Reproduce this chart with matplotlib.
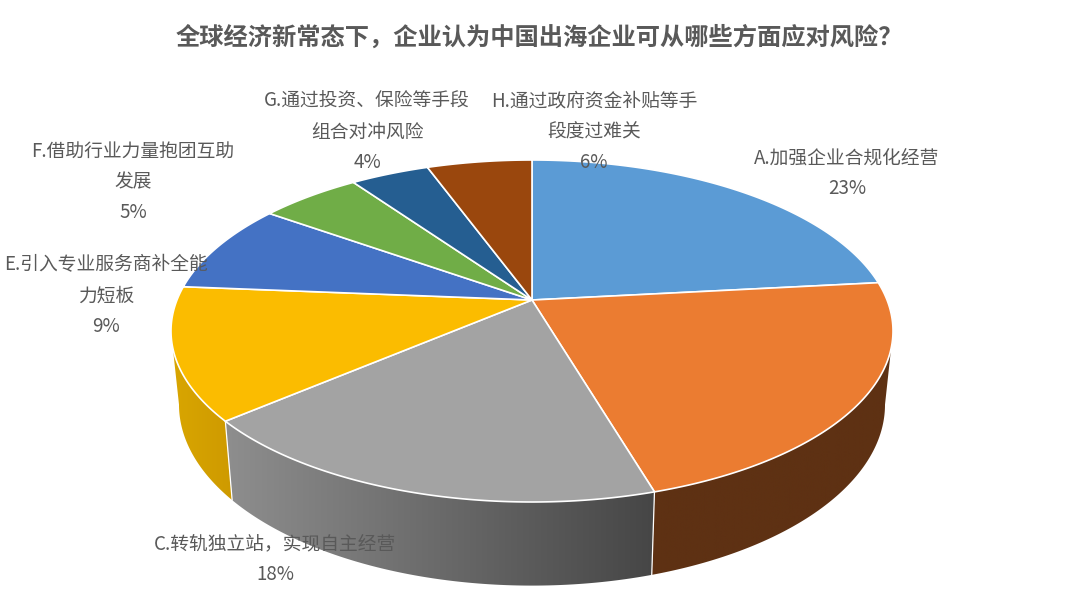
"""
3D pie: how companies think Chinese firms going abroad can handle risk.
Drawn by hand on a pixel-sized axes since matplotlib has no real 3D pie.
"""

import numpy as np
import matplotlib
matplotlib.use('Agg')
import matplotlib.pyplot as plt
from matplotlib.colors import LinearSegmentedColormap
from matplotlib.patches import Polygon

plt.rcParams['font.family'] = ['Noto Sans CJK SC', 'DejaVu Sans']

# ── Data ───────────────────────────────────────────────────────────────────────
TITLE = '全球经济新常态下，企业认为中国出海企业可从哪些方面应对风险？'
LABELS = ['A.加强企业合规化经营', '', 'C.转轨独立站，实现自主经营', '',
          'E.引入专业服务商补全能\n力短板', 'F.借助行业力量抱团互助\n发展',
          'G.通过投资、保险等手段\n组合对冲风险', 'H.通过政府资金补贴等手\n段度过难关']
# printed percentages, and slice sizes
PERCENTS = ['23%', '', '18%', '', '9%', '5%', '4%', '6%']
VALUES = [23.3, 22.1, 18.4, 12.5, 8.5, 5.4, 4.2, 5.6]

# ── Style ──────────────────────────────────────────────────────────────────────
TOP_COLORS  = ['#5B9BD5', '#EB7C31', '#A3A3A3', '#FBBC00',
               '#4472C4', '#70AD47', '#255E91', '#9A470D']
WALL_LEFT   = ['#35597A', '#5E3113', '#8E8E8E', '#D9A600',
               '#2A4A7A', '#466C2C', '#17395A', '#5E3113']
WALL_RIGHT  = ['#35597A', '#5E3113', '#464646', '#CE9A00',
               '#2A4A7A', '#466C2C', '#17395A', '#5E3113']
TEXT_COLOR  = '#595959'

TOP    = (532, 331, 361, 171)     # ellipse centre x, y, radius x, y
BOTTOM = (532, 404.6, 353, 181)
TILT   = 31 / 171                 # how far the pie centre sits above the ellipse centre

# centre x and y of the first text line for each label
LABEL_POS = [(847, 158), None, (275, 544), None,
             (106, 265), (133, 151), (367, 101), (594, 101)]
LINE_STEP = 31

# the part of the rim facing the viewer, between the left and right extremes
FRONT_START = 0.25 + np.arcsin(TILT) / (2 * np.pi)
FRONT_END   = 1 - FRONT_START


# ── Geometry ───────────────────────────────────────────────────────────────────
def project(frac, ellipse):
    """Fraction of the circle (clockwise from 12 o'clock) to pixel position."""
    cx, cy, rx, ry = ellipse
    t = 2 * np.pi * np.asarray(frac)
    x, y = np.sin(t), -np.cos(t)
    w = 1 - TILT * y
    return (cx + rx * x * np.sqrt(1 - TILT ** 2) / w,
            cy + ry * (y - TILT) / w)


def arc(f0, f1, ellipse):
    fr = np.linspace(f0, f1, 200)
    return np.column_stack(project(fr, ellipse))


def draw_wall(ax, pts, left, right):
    # horizontal gradient clipped to the wall shape
    cmap = LinearSegmentedColormap.from_list('wall', [left, right])
    grad = np.linspace(0, 1, 256).reshape(1, -1)
    x0, y0 = pts.min(axis=0)
    x1, y1 = pts.max(axis=0)
    im = ax.imshow(grad, cmap=cmap, extent=(x0, x1, y1, y0), aspect='auto', zorder=1)
    im.set_clip_path(Polygon(pts, closed=True, transform=ax.transData))


# ── Plot ───────────────────────────────────────────────────────────────────────
fig = plt.figure(figsize=(10.8, 6.09), dpi=100)
ax = fig.add_axes([0, 0, 1, 1])

edges = np.cumsum([0] + VALUES) / sum(VALUES)

# Side walls first, only the front of the rim is ever visible
for i in range(len(VALUES)):
    f0 = max(edges[i], FRONT_START)
    f1 = min(edges[i + 1], FRONT_END)
    if f1 <= f0:
        continue
    top_arc = arc(f0, f1, TOP)
    bot_arc = arc(f0, f1, BOTTOM)
    draw_wall(ax, np.vstack([top_arc, bot_arc[::-1]]), WALL_LEFT[i], WALL_RIGHT[i])

for f in edges:
    if FRONT_START < f < FRONT_END:
        xt, yt = project(f, TOP)
        xb, yb = project(f, BOTTOM)
        ax.plot([xt, xb], [yt, yb], color='white', lw=0.9, zorder=2)

# Top surface
apex = (TOP[0], TOP[1] - TILT * TOP[3])
for i in range(len(VALUES)):
    pts = np.vstack([[apex], arc(edges[i], edges[i + 1], TOP)])
    ax.add_patch(Polygon(pts, closed=True, facecolor=TOP_COLORS[i], edgecolor='white',
                         lw=1.2, joinstyle='round', zorder=3))

# Labels
for i, pos in enumerate(LABEL_POS):
    if pos is None:
        continue
    lines = LABELS[i].split('\n') + [PERCENTS[i]]
    for n, line in enumerate(lines):
        ax.text(pos[0], pos[1] + n * LINE_STEP, line, ha='center', va='center',
                fontsize=13.5, color=TEXT_COLOR, zorder=5)

ax.text(539.5, 38, TITLE, ha='center', va='center', fontsize=17.5,
        fontweight='bold', color=TEXT_COLOR, zorder=5)

ax.set_xlim(0, 1080)
ax.set_ylim(609, 0)
ax.axis('off')

plt.savefig('out.png', dpi=100, facecolor='white')
